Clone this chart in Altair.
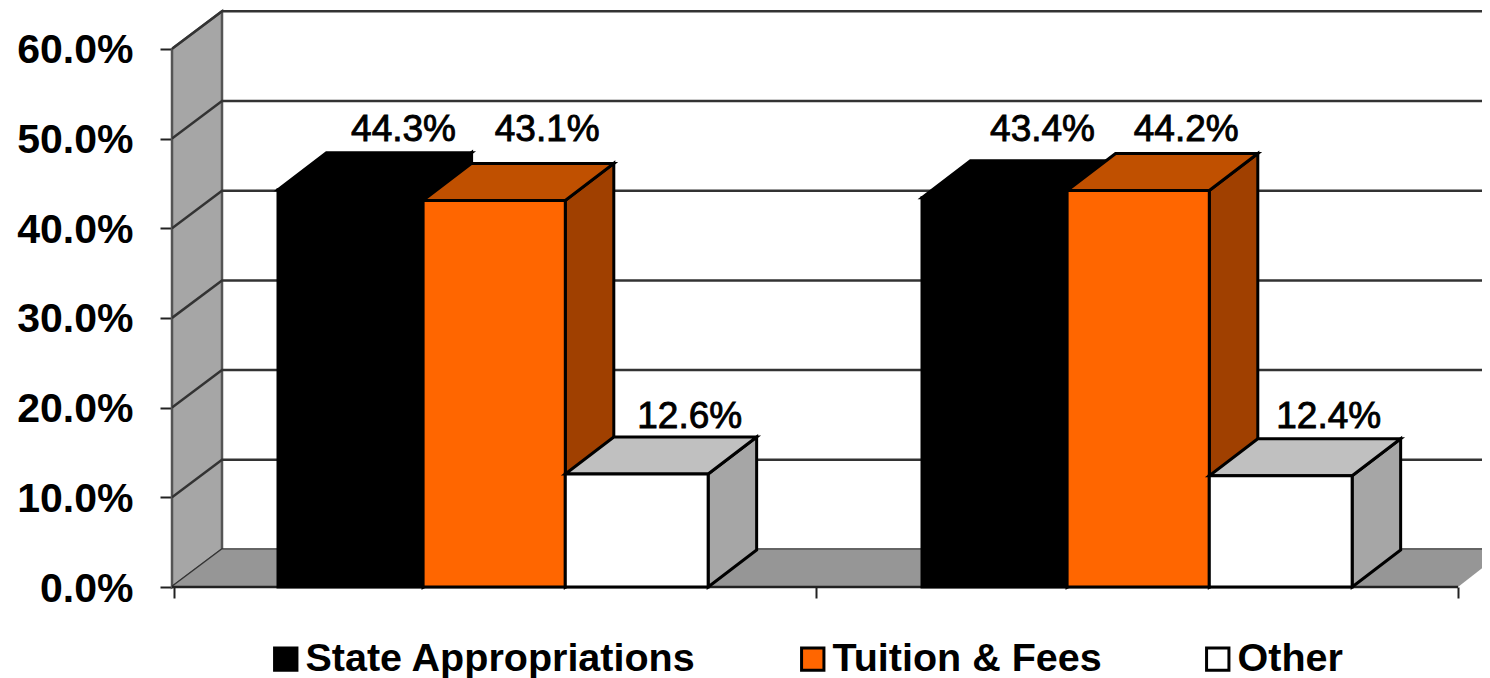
import altair as alt
import pandas as pd

# --- values ---
series = ["State Appropriations", "Tuition & Fees", "Other"]
group_a = [44.3, 43.1, 12.6]
group_b = [43.4, 44.2, 12.4]
front_colors = ["#000000", "#FF6600", "#FFFFFF"]
top_colors = ["#000000", "#C05000", "#C0C0C0"]
side_colors = ["#000000", "#A04000", "#A6A6A6"]
y_ticks = [0, 10, 20, 30, 40, 50, 60]

# --- geometry of the pseudo-3D plot, in axis units ---
W, H = 1310, 579
PX_X, PX_Y = 642.0, 8.97            # pixels per group, pixels per percent
X0 = 2                              # x=0 sits just right of the wall's front edge
xdom = [-X0 / PX_X, (W - X0) / PX_X]
ydom = [0, H / PX_Y]
x_s = alt.Scale(domain=xdom, nice=False, zero=False)
y_s = alt.Scale(domain=ydom, nice=False, zero=False)
WALL_L = xdom[0]
WALL_X, WALL_Y = 48 / PX_X, 37.5 / PX_Y   # position of the back of the wall
BAR_X, BAR_Y = 48.5 / PX_X, 37 / PX_Y     # bar depth
BAR_EDGES = [0.1620, 0.3880, 0.6095, 0.8320]
BAR_STEP = 644 / PX_X
LABEL_STEP = 639 / PX_X
HIGH_LABEL, LOW_LABEL = 50.9, 18.9

x_axis = alt.Axis(
    values=[0, 1, 2], labels=False, title=None, domain=False, grid=False,
    ticks=True, tickSize=11, tickWidth=2, tickColor="#222222",
)
y_axis = alt.Axis(
    values=y_ticks, format=".1f", labelExpr="datum.label + '%'", title=None,
    domain=False, grid=False, tickSize=12, tickWidth=2, tickColor="#222222",
    labelFont="Liberation Sans", labelFontWeight="bold", labelFontSize=41,
    labelColor="#000000", labelPadding=27, labelBaseline="middle", labelOffset=2,
)
X = alt.X("x:Q", scale=x_s, axis=x_axis)
Y = alt.Y("y:Q", scale=y_s, axis=y_axis)

# wall
wall = alt.Chart(pd.DataFrame({
    "x": [WALL_L, WALL_X], "y": [0, WALL_Y], "y2": [60, 60 + WALL_Y]
})).mark_area(fill="#A6A6A6", stroke="#555555", strokeWidth=2.5).encode(X, Y, y2="y2:Q")

# gridlines: diagonal on the wall, then along the back
grid_rows = []
for t in y_ticks:
    grid_rows += [
        {"t": t, "o": 0, "x": WALL_L, "y": t},
        {"t": t, "o": 1, "x": WALL_X, "y": t + WALL_Y},
        {"t": t, "o": 2, "x": xdom[1], "y": t + WALL_Y},
    ]
grid = alt.Chart(pd.DataFrame(grid_rows)).mark_line(
    color="#333333", strokeWidth=2.5, clip=True
).encode(X, Y, detail="t:N", order="o:Q")

# floor
floor = alt.Chart(pd.DataFrame({
    "y": [0, WALL_Y], "x": [WALL_L, WALL_X], "x2": [2, 2 + WALL_X]
})).mark_area(orient="horizontal", fill="#969696", clip=True).encode(X, x2="x2:Q", y=Y)

# base line
base = alt.Chart(pd.DataFrame({"x": [WALL_L], "x2": [2], "y": [0]})).mark_rule(
    color="#222222", strokeWidth=2.5
).encode(X, x2="x2:Q", y=Y)

layers = [wall, grid, floor, base]

rows = []
for g, vals in enumerate([group_a, group_b]):
    for i, v in enumerate(vals):
        rows.append({"g": g, "i": i, "series": series[i], "v": v,
                     "x0": g * BAR_STEP + BAR_EDGES[i], "x1": g * BAR_STEP + BAR_EDGES[i + 1],
                     "lx": g * LABEL_STEP + (BAR_EDGES[i] + BAR_EDGES[i + 1]) / 2})

for i, s in enumerate(series):
    rs = [r for r in rows if r["i"] == i]
    side = pd.DataFrame([
        row for r in rs for row in (
            {"g": r["g"], "x": r["x1"], "y": 0, "y2": r["v"]},
            {"g": r["g"], "x": r["x1"] + BAR_X, "y": BAR_Y, "y2": r["v"] + BAR_Y},
        )
    ])
    top = pd.DataFrame([
        row for r in rs for row in (
            {"g": r["g"], "y": r["v"], "x": r["x0"], "x2": r["x1"]},
            {"g": r["g"], "y": r["v"] + BAR_Y, "x": r["x0"] + BAR_X, "x2": r["x1"] + BAR_X},
        )
    ])
    layers.append(alt.Chart(side).mark_area(
        fill=side_colors[i], stroke="#000000", strokeWidth=3
    ).encode(X, Y, y2="y2:Q", detail="g:N"))
    layers.append(alt.Chart(top).mark_area(
        orient="horizontal", fill=top_colors[i], stroke="#000000", strokeWidth=3
    ).encode(X, x2="x2:Q", y=Y, detail="g:N"))
    front = pd.DataFrame([
        {"series": s, "x": r["x0"], "x2": r["x1"], "y": 0, "y2": r["v"]} for r in rs
    ])
    layers.append(alt.Chart(front).mark_rect(stroke="#000000", strokeWidth=3).encode(
        X, x2="x2:Q", y=Y, y2="y2:Q",
        fill=alt.Fill("series:N", scale=alt.Scale(domain=series, range=front_colors), legend=alt.Legend(
            title=None, orient="none", legendX=94, legendY=631, columns=3, padding=0,
            direction="horizontal", gridAlign="each", columnPadding=96,
            symbolType="square", symbolSize=500, symbolStrokeColor="#000000", symbolStrokeWidth=3,
            labelFont="Liberation Sans", labelFontWeight="bold", labelFontSize=39.5,
            labelColor="#000000", labelLimit=600, labelOffset=0,
        )),
    ))

labels = pd.DataFrame([
    {"x": r["lx"] + BAR_X + 0.007,
     "y": HIGH_LABEL if r["v"] > 30 else LOW_LABEL,
     "text": f'{r["v"]:.1f}%'} for r in rows
])
layers.append(alt.Chart(labels).mark_text(
    font="Liberation Sans", fontSize=37, color="#000000", stroke="#000000", strokeWidth=0.9,
).encode(X, Y, text="text:N"))

chart = alt.layer(*layers).properties(
    width=W, height=H,
    padding={"left": 164, "top": 0, "right": 0, "bottom": 91},
    autosize=alt.AutoSizeParams(type="none", contains="content"),
    background="#FFFFFF",
).configure_view(stroke=None)

chart.save("out.html", embed_options={"renderer": "svg", "actions": False})
